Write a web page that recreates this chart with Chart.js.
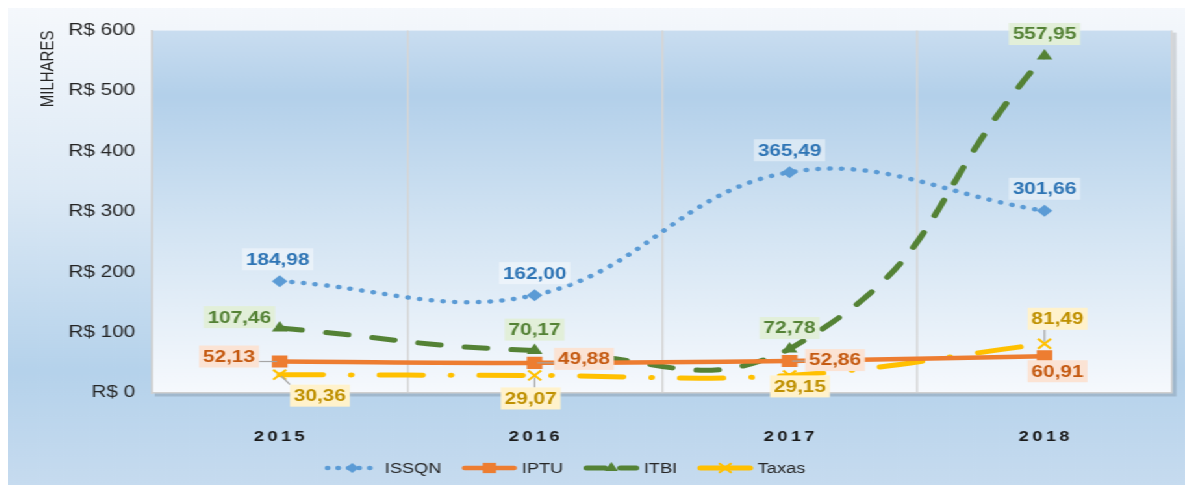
<!DOCTYPE html>
<html lang="pt-BR">
<head>
<meta charset="utf-8">
<title>Receitas próprias 2015-2018</title>
<script src="https://cdn.jsdelivr.net/npm/chart.js@4/dist/chart.umd.min.js"></script>
<style>
    html, body { margin: 0; padding: 0; background: #fff; overflow: hidden; }
    #moldura {
        position: absolute; left: 8px; top: 8px;
        width: 906px; height: 477px;
        transform: scaleX(1.2991); transform-origin: 0 0;
        background: linear-gradient(to bottom, #f5f8fc 0%, #dce9f5 38%, #b5d2eb 76%, #c6dbef 100%);
    }
</style>
</head>
<body>
<div id="moldura"><canvas id="grafico" width="906" height="477"></canvas></div>
<script>
// dados (R$ milhares)
const anos = ['2015', '2016', '2017', '2018'];
const issqn = [184.98, 162.00, 365.49, 301.66];
const iptu = [52.13, 49.88, 52.86, 60.91];
const itbi = [107.46, 70.17, 72.78, 557.95];
const taxas = [30.36, 29.07, 29.15, 81.49];
const valoresEixo = [0, 100, 200, 300, 400, 500, 600];

const FONTE = 'Arial, "Liberation Sans", sans-serif';

// posição de cada rótulo em relação ao ponto: [dx, dy, linha guia]
const estilosRotulos = [
    { texto: '#2f75b5', fundo: 'rgba(255,255,255,0.42)', posicoes: [[-1.5, -22], [0, -22], [0, -22], [0, -22]] },
    { texto: '#c55a11', fundo: '#fbe3d4', posicoes: [[-39, -5, true], [38, -4, true], [35, -1, true], [10, 15]] },
    { texto: '#548235', fundo: '#e2efd9', posicoes: [[-31, -11], [0, -21], [0, -21], [0, -22]] },
    { texto: '#bf9000', fundo: '#fff2cc', posicoes: [[31, 21, true], [-3, 23, true], [8, 11], [10, -25, true]] }
];

function formatarValor(v) {
    return v.toFixed(2).replace('.', ',');
}

const fundoArea = {
    id: 'fundoArea',
    beforeDraw(chart) {
        const { ctx, chartArea: a } = chart;
        const grad = ctx.createLinearGradient(0, a.top, 0, a.bottom);
        grad.addColorStop(0, '#c9ddf0');
        grad.addColorStop(0.18, '#b3d0ea');
        grad.addColorStop(0.55, '#d3e4f3');
        grad.addColorStop(1, '#f6f9fd');
        ctx.save();
        ctx.fillStyle = 'rgba(0,0,0,0.13)';
        ctx.fillRect(a.left + 2, a.top + 2, a.width + 1.5, a.height + 1.5);
        ctx.fillStyle = grad;
        ctx.fillRect(a.left, a.top, a.width, a.height);
        ctx.restore();
    }
};

const rotulosDados = {
    id: 'rotulosDados',
    afterDatasetsDraw(chart) {
        const { ctx } = chart;
        ctx.save();
        ctx.font = 'bold 16px ' + FONTE;
        ctx.textAlign = 'center';
        ctx.textBaseline = 'middle';
        chart.data.datasets.forEach((ds, d) => {
            const estilo = estilosRotulos[d];
            chart.getDatasetMeta(d).data.forEach((ponto, i) => {
                const [dx, dy, guia] = estilo.posicoes[i];
                const texto = formatarValor(ds.data[i]);
                const w = ctx.measureText(texto).width + 6;
                const h = 22;
                const cx = ponto.x + dx;
                const cy = ponto.y + dy;
                if (guia) {
                    const qx = Math.min(Math.max(ponto.x, cx - w / 2), cx + w / 2);
                    const qy = Math.min(Math.max(ponto.y, cy - h / 2), cy + h / 2);
                    const dist = Math.hypot(qx - ponto.x, qy - ponto.y);
                    if (dist > 3) {
                        ctx.strokeStyle = '#a6a6a6';
                        ctx.lineWidth = 1.2;
                        ctx.beginPath();
                        ctx.moveTo(ponto.x + (qx - ponto.x) * 2 / dist, ponto.y + (qy - ponto.y) * 2 / dist);
                        ctx.lineTo(qx, qy);
                        ctx.stroke();
                    }
                }
                ctx.fillStyle = estilo.fundo;
                ctx.fillRect(cx - w / 2, cy - h / 2, w, h);
                ctx.fillStyle = estilo.texto;
                ctx.fillText(texto, cx, cy + 1);
            });
        });
        ctx.restore();
    }
};

const rotulosAnos = {
    id: 'rotulosAnos',
    afterDraw(chart) {
        const { ctx, scales: { x } } = chart;
        ctx.save();
        ctx.font = 'bold 14px ' + FONTE;
        ctx.letterSpacing = '2.6px';
        ctx.fillStyle = '#1a1a1a';
        ctx.textAlign = 'center';
        ctx.textBaseline = 'middle';
        anos.forEach((ano, i) => ctx.fillText(ano, x.getPixelForValue(i) + 1, 429));
        ctx.restore();
    }
};

const legendaLinhas = {
    id: 'legendaLinhas',
    afterDraw(chart) {
        const { ctx } = chart;
        const y = 460;
        let x = 244;
        ctx.save();
        ctx.font = '14px ' + FONTE;
        ctx.textBaseline = 'middle';
        chart.data.datasets.forEach(ds => {
            ctx.strokeStyle = ds.borderColor;
            ctx.fillStyle = ds.backgroundColor;
            ctx.lineWidth = ds.borderWidth;
            ctx.lineCap = 'round';
            ctx.setLineDash(ds.legendaDash || []);
            ctx.beginPath();
            ctx.moveTo(x + 2, y);
            ctx.lineTo(x + 40, y);
            ctx.stroke();
            ctx.setLineDash([]);
            ctx.lineWidth = ds.pointBorderWidth;
            Chart.helpers.drawPoint(ctx, {
                pointStyle: ds.pointStyle, radius: ds.pointRadius * 0.85,
                borderWidth: ds.pointBorderWidth, rotation: 0
            }, x + 21, y);
            ctx.fillStyle = '#262626';
            ctx.fillText(ds.label, x + 46, y + 1);
            x += 46 + ctx.measureText(ds.label).width + 16;
        });
        ctx.restore();
    }
};

new Chart(document.getElementById('grafico'), {
    type: 'line',
    data: {
        labels: anos,
        datasets: [
            {
                label: 'ISSQN', data: issqn,
                borderColor: '#5b9bd5', backgroundColor: '#5b9bd5',
                borderWidth: 4.5, borderDash: [0.1, 9], legendaDash: [0.1, 8], borderCapStyle: 'round',
                pointStyle: 'rectRot', pointRadius: 6, pointBorderWidth: 0, tension: 0.4
            },
            {
                label: 'IPTU', data: iptu,
                borderColor: '#ed7d31', backgroundColor: '#ed7d31',
                borderWidth: 4.5, borderCapStyle: 'round',
                pointStyle: 'rect', pointRadius: 8.5, pointBorderWidth: 0, tension: 0.4
            },
            {
                label: 'ITBI', data: itbi,
                borderColor: '#548235', backgroundColor: '#548235',
                borderWidth: 5, borderDash: [17, 19], legendaDash: [14, 12], borderCapStyle: 'round',
                pointStyle: 'triangle', pointRadius: 7, pointBorderWidth: 0, tension: 0.5
            },
            {
                label: 'Taxas', data: taxas,
                borderColor: '#ffc000', backgroundColor: '#ffc000',
                borderWidth: 5, borderDash: [33, 22, 0.1, 22], legendaDash: [40, 0], borderCapStyle: 'round',
                pointStyle: 'crossRot', pointRadius: 7, pointBorderWidth: 2, tension: 0.4
            }
        ]
    },
    options: {
        responsive: false,
        animation: false,
        devicePixelRatio: 1,
        layout: { padding: { top: 20, right: 10, bottom: 0, left: 0 } },
        plugins: { legend: { display: false }, tooltip: { enabled: false } },
        scales: {
            x: {
                offset: true,
                grid: { offset: true, color: '#d6d6d6', lineWidth: 1.5, drawTicks: false },
                border: { color: '#cfcfcf', width: 1.5 },
                ticks: { display: false },
                afterFit(scale) { scale.height = 92; }
            },
            y: {
                min: valoresEixo[0],
                max: valoresEixo[valoresEixo.length - 1],
                grid: { display: false, drawTicks: false },
                border: { display: true, color: '#cfcfcf', width: 1.5 },
                ticks: {
                    stepSize: valoresEixo[1] - valoresEixo[0],
                    padding: 13,
                    color: '#262626',
                    font: { family: FONTE, size: 16 },
                    callback: v => 'R$ ' + v
                },
                title: {
                    display: true, text: 'MILHARES', align: 'end',
                    color: '#262626', font: { family: FONTE, size: 15 },
                    padding: { top: 22, bottom: 0 }
                },
                afterFit(scale) { scale.width = 111; }
            }
        }
    },
    plugins: [fundoArea, rotulosDados, rotulosAnos, legendaLinhas]
});
</script>
</body>
</html>
